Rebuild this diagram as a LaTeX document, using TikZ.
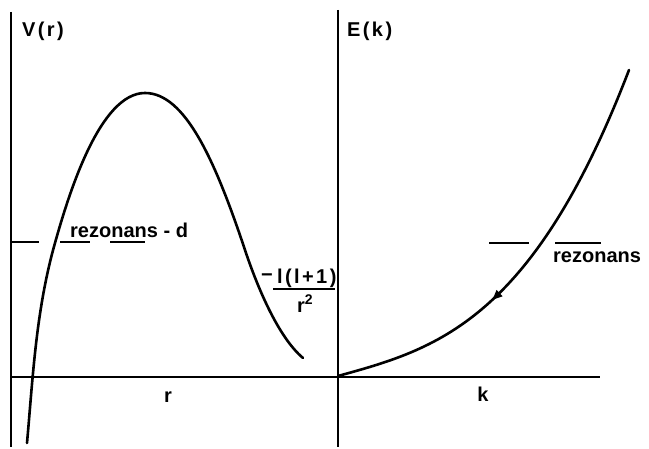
\documentclass[tikz,border=0pt]{standalone}
\usepackage{fontspec}
\setmainfont{Liberation Sans}
\usetikzlibrary{decorations.markings,arrows.meta}
\begin{document}
\begin{tikzpicture}[x=1pt,y=-1pt,
  axis/.style={line width=2.2pt},
  curve/.style={line width=2.6pt, line cap=round, line join=round},
  lvl/.style={line width=1.8pt},
  lbl/.style={inner sep=0pt, font=\fontsize{20}{24}\selectfont\bfseries},
  sp/.style={inner sep=0pt, font=\fontsize{20}{24}\selectfont\bfseries\addfontfeature{LetterSpace=12}}]
\useasboundingbox (0,0) rectangle (649,449);
% axes
\coordinate (ltop) at (11,12);
\coordinate (lbot) at (11,447);
\coordinate (mtop) at (338,10);
\coordinate (mbot) at (338,447);
\coordinate (hl) at (10,377);
\coordinate (hr) at (600,377);
\draw[axis] (ltop) -- (lbot);
\draw[axis] (mtop) -- (mbot);
\draw[axis] (hl) -- (hr);
% left potential curve
\coordinate (p0) at (27,443);
\coordinate (p1) at (55,243);
\coordinate (p2) at (145,93);
\coordinate (p3) at (245,250);
\coordinate (p4) at (303,358);
\draw[curve] (p0) .. controls (33,376) and (36,310) .. (p1)
  .. controls (69,193) and (100,93) .. (p2)
  .. controls (185,93) and (215,160) .. (p3)
  .. controls (257,286) and (278,337) .. (p4);
% right dispersion curve
\coordinate (o) at (338,376);
\coordinate (q) at (629,70);
\draw[curve, postaction={decorate}, decoration={markings,
   mark=at position 174pt with {\arrowreversed{Triangle[length=10pt,width=8pt]}}}]
  (o) .. controls (435,349.3) and (532,322.7) .. (q);
% resonance levels
\coordinate (a1) at (11,242); \coordinate (a2) at (39,242);
\coordinate (b1) at (60,242); \coordinate (b2) at (90,242);
\coordinate (c1) at (110,242); \coordinate (c2) at (145,242);
\draw[lvl] (a1) -- (a2);
\draw[lvl] (b1) -- (b2);
\draw[lvl] (c1) -- (c2);
\coordinate (d1) at (489,243); \coordinate (d2) at (529,243);
\coordinate (e1) at (555,243); \coordinate (e2) at (601,243);
\draw[lvl] (d1) -- (d2);
\draw[lvl] (e1) -- (e2);
% labels
\node[sp, anchor=base west] (Vr) at (22,37) {V(r)};
\node[sp, anchor=base west] (Ek) at (347,37) {E(k)};
\node[lbl, anchor=base west] (resd) at (70,238) {rezonans - d};
\node[lbl, anchor=base west] (res) at (553,263) {rezonans};
\node[lbl, anchor=base] (rl) at (168,403) {r};
\node[lbl, anchor=base] (kl) at (483,402) {k};
\node[lbl] (minus) at (267,278) {−};
\node[sp, anchor=base west] (num) at (277,284) {l(l+1)};
\coordinate (f1) at (273,289); \coordinate (f2) at (335,289);
\draw[line width=2pt] (f1) -- (f2);
\node[lbl, anchor=base west] (den) at (297,313) {r\raisebox{0.42em}{\fontsize{14}{14}\selectfont 2}};
\end{tikzpicture}
\end{document}
